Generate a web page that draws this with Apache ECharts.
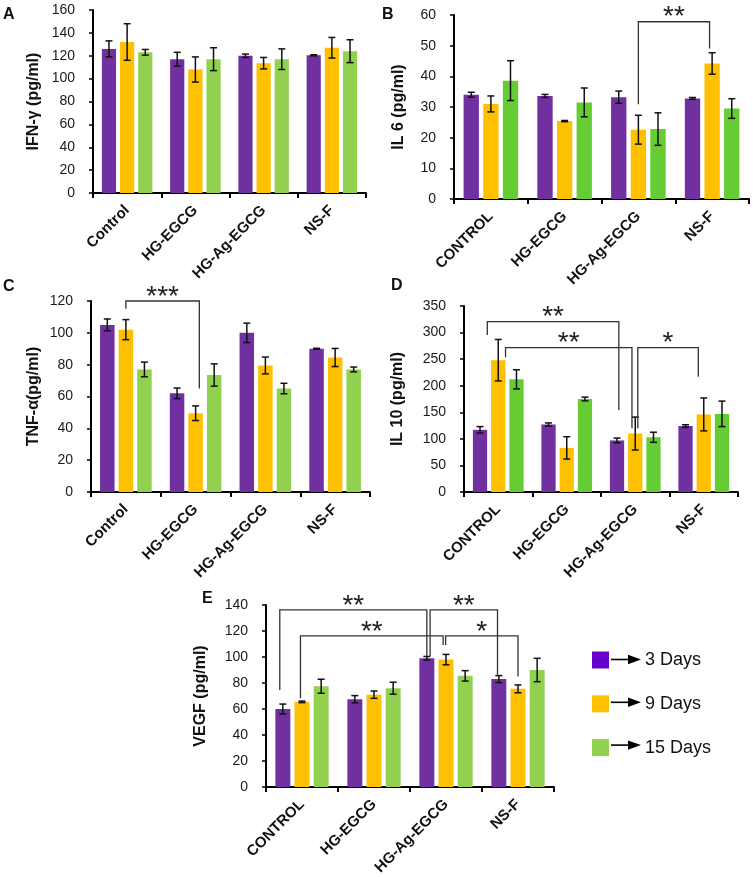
<!DOCTYPE html>
<html>
<head>
<meta charset="utf-8">
<script src="https://cdn.jsdelivr.net/npm/echarts@6/dist/echarts.min.js"></script>
<style>
html, body { margin: 0; padding: 0; background: #fff; }
#chart { width: 753px; height: 877px; }
</style>
</head>
<body>
<div id="chart"></div>
<script>
var groupsTitle = ['Control', 'HG-EGCG', 'HG-Ag-EGCG', 'NS-F'];
var groupsUpper = ['CONTROL', 'HG-EGCG', 'HG-Ag-EGCG', 'NS-F'];
var dayNames = ['3 Days', '9 Days', '15 Days'];

// each panel: rows are 3, 9, 15 days; columns follow the groups
// A - IFN-γ
var ifnMean = [[126, 117, 120, 120.4], [132, 108, 113.5, 127], [123, 117, 117, 124]];
var ifnErr = [[7, 6, 1.5, 0.5], [16, 11, 5, 9], [2.5, 10, 9, 10]];
// B - IL 6
var il6Mean = [[34, 33.6, 33.2, 32.8], [31, 25.4, 22.6, 44.2], [38.6, 31.5, 22.8, 29.5]];
var il6Err = [[0.8, 0.5, 2, 0.3], [2.6, 0.2, 4.7, 3.5], [6.5, 4.7, 5.3, 3.2]];
// C - TNF-α
var tnfMean = [[105, 62, 100, 90], [102, 49.5, 79.5, 84.5], [77, 73.5, 65, 77]];
var tnfErr = [[3.7, 3.3, 6.1, 0.3], [6.3, 4.6, 5.3, 5.7], [4.6, 7, 3.3, 1.5]];
// D - IL 10
var il10Mean = [[117, 127, 97, 124], [248, 83, 110, 146], [212, 175, 103, 147]];
var il10Err = [[6, 3, 4.4, 2.5], [39, 21, 31, 31], [18, 3.5, 9.5, 24]];
// E - VEGF
var vegfMean = [[60, 67.5, 99, 83], [65.5, 71, 98, 75.5], [77.5, 76, 85.5, 90]];
var vegfErr = [[3.8, 2.8, 1.4, 2.7], [0.6, 2.8, 4, 3], [5.4, 4.6, 4, 9]];

// significance brackets: [fromGroup, fromDay, toGroup, toDay, top, leftLegEnd, rightLegEnd]
var il6Sig = [[2, 1, 3, 0.87, 57.8, 30.9, 49.1]];
var il6Stars = ['**'];
var tnfSig = [[0, 1, 1, 1.2, 120, 115.2, 65]];
var tnfStars = ['***'];
var il10Sig = [[0, 0.4, 2, 0.1, 320.6, 295.5, 154.3], [0, 1.4, 2, 0.82, 271.6, 253.4, 119.8], [2, 1.14, 3, 0.7, 271.6, 119.8, 217]];
var il10Stars = ['**', '**', '*'];
var vegfSig = [[0, -0.16, 2, 0, 136.2, 74.7, 100.8], [0, 0.92, 2, 0.85, 116.2, 68.3, 109.3], [2, 0.17, 3, -0.07, 136.2, 100.8, 86.3], [2, 0.98, 3, 1, 116.2, 109.3, 85]];
var vegfStars = ['**', '**', '**', '*'];

var CAT_GAP = 0.26, BAR_GAP = 0.28;
var FONT = '"Liberation Sans", Arial, sans-serif';

var panels = [
  { letter: 'A', cats: groupsTitle, mean: ifnMean, err: ifnErr, sig: [], stars: [], name: 'IFN-γ (pg/ml)', max: 160, step: 20,
    grid: { left: 93, top: 10, width: 273, height: 183 }, nameGap: 51, green: '#92D050', lx: 3, ly: 7 },
  { letter: 'B', cats: groupsUpper, mean: il6Mean, err: il6Err, sig: il6Sig, stars: il6Stars, name: 'IL 6 (pg/ml)', max: 60, step: 10,
    grid: { left: 454, top: 15, width: 295, height: 184 }, nameGap: 47, green: '#66CC33', lx: 382, ly: 7 },
  { letter: 'C', cats: groupsTitle, mean: tnfMean, err: tnfErr, sig: tnfSig, stars: tnfStars, name: 'TNF-α(pg/ml)', max: 120, step: 20,
    grid: { left: 91, top: 301, width: 279, height: 191 }, nameGap: 49, green: '#92D050', lx: 3, ly: 279 },
  { letter: 'D', cats: groupsUpper, mean: il10Mean, err: il10Err, sig: il10Sig, stars: il10Stars, name: 'IL 10 (pg/ml)', max: 350, step: 50,
    grid: { left: 464, top: 306, width: 274, height: 186 }, nameGap: 58, green: '#66CC33', lx: 391, ly: 278 },
  { letter: 'E', cats: groupsUpper, mean: vegfMean, err: vegfErr, sig: vegfSig, stars: vegfStars, name: 'VEGF (pg/ml)', max: 140, step: 20,
    grid: { left: 266, top: 605, width: 288, height: 182 }, nameGap: 57, green: '#92D050', lx: 202, ly: 591 }
];

var legendColors = ['#6600CC', '#FFC000', '#92D050'];

function dayOffset(band, d) {
  var bw = band * (1 - CAT_GAP) / (3 + 2 * BAR_GAP);
  return (d - 1) * bw * (1 + BAR_GAP);
}

function errorRender(day) {
  return function (params, api) {
    var c = api.value(0), m = api.value(1), e = api.value(2);
    var band = api.size([1, 0])[0];
    var x = api.coord([c, m])[0] + dayOffset(band, day);
    var yHi = api.coord([c, m + e])[1];
    var yLo = api.coord([c, m - e])[1];
    var cap = 3.5;
    var st = { stroke: '#111', lineWidth: 1.5 };
    return {
      type: 'group',
      children: [
        { type: 'line', shape: { x1: x, y1: yHi, x2: x, y2: yLo }, style: st },
        { type: 'line', shape: { x1: x - cap, y1: yHi, x2: x + cap, y2: yHi }, style: st },
        { type: 'line', shape: { x1: x - cap, y1: yLo, x2: x + cap, y2: yLo }, style: st }
      ]
    };
  };
}

function bracketRender(stars) {
  return function (params, api) {
    var band = api.size([1, 0])[0];
    var x1 = api.coord([api.value(0), 0])[0] + dayOffset(band, api.value(1));
    var x2 = api.coord([api.value(2), 0])[0] + dayOffset(band, api.value(3));
    var yT = api.coord([0, api.value(4)])[1];
    var yL = api.coord([0, api.value(5)])[1];
    var yR = api.coord([0, api.value(6)])[1];
    return {
      type: 'group',
      children: [
        { type: 'polyline', shape: { points: [[x1, yL], [x1, yT], [x2, yT], [x2, yR]] },
          style: { stroke: '#333', lineWidth: 1.3, fill: null } },
        { type: 'text', style: { text: stars[params.dataIndex], x: (x1 + x2) / 2, y: yT - 4,
          align: 'center', verticalAlign: 'middle', fontSize: 28, fontFamily: FONT, fill: '#222' } }
      ]
    };
  };
}

var grids = [], xAxes = [], yAxes = [], series = [], graphics = [];

panels.forEach(function (p, pi) {
  var g = p.grid;
  grids.push({ left: g.left, top: g.top, width: g.width, height: g.height, outerBoundsMode: 'none' });
  xAxes.push({
    type: 'category', gridIndex: pi, data: p.cats,
    axisLine: { lineStyle: { color: '#000', width: 2 } },
    axisTick: { show: true, length: 5, lineStyle: { color: '#000', width: 2 } },
    axisLabel: { rotate: 45, interval: 0, margin: 15, fontSize: 15, fontWeight: 'bold', fontFamily: FONT, color: '#111' }
  });
  yAxes.push({
    type: 'value', gridIndex: pi, min: 0, max: p.max, interval: p.step,
    name: p.name, nameLocation: 'middle', nameRotate: 90, nameGap: p.nameGap,
    nameTextStyle: { fontSize: 16, fontWeight: 'bold', fontFamily: FONT, color: '#111' },
    axisLine: { show: true, lineStyle: { color: '#000', width: 2 } },
    axisTick: { show: true, length: 4, lineStyle: { color: '#000', width: 1.5 } },
    axisLabel: { fontSize: 14, fontFamily: FONT, color: '#1a1a1a', margin: 18 },
    splitLine: { show: false }
  });
  var colors = ['#7030A0', '#FFC000', p.green];
  dayNames.forEach(function (dn, d) {
    series.push({
      type: 'bar', name: dn, xAxisIndex: pi, yAxisIndex: pi,
      data: p.mean[d], barGap: (BAR_GAP * 100) + '%', barCategoryGap: (CAT_GAP * 100) + '%',
      itemStyle: { color: colors[d] }, silent: true
    });
  });
  dayNames.forEach(function (dn, d) {
    series.push({
      type: 'custom', name: dn + ' error', xAxisIndex: pi, yAxisIndex: pi, z: 3, silent: true,
      renderItem: errorRender(d), encode: { x: 0, y: 1 },
      data: p.mean[d].map(function (v, i) { return [i, v, p.err[d][i]]; })
    });
  });
  if (p.sig.length) {
    series.push({
      type: 'custom', name: p.letter + ' sig', xAxisIndex: pi, yAxisIndex: pi, z: 4, silent: true, clip: false,
      renderItem: bracketRender(p.stars), encode: { x: 0, y: 4 },
      data: p.sig
    });
  }
  graphics.push({
    type: 'text', left: p.lx, top: p.ly,
    style: { text: p.letter, fontSize: 16, fontWeight: 'bold', fontFamily: FONT, fill: '#111' }
  });
});

// legend arrows
var legTop = 651, legStep = 42.8;
dayNames.forEach(function (dn, i) {
  var cy = legTop + 8.5 + i * legStep;
  graphics.push({ type: 'line', shape: { x1: 611, y1: cy, x2: 630, y2: cy }, style: { stroke: '#000', lineWidth: 1.6 } });
  graphics.push({ type: 'polygon', shape: { points: [[628, cy - 4.7], [641, cy], [628, cy + 4.7]] }, style: { fill: '#000' } });
});

var chart = echarts.init(document.getElementById('chart'));
chart.setOption({
  backgroundColor: '#fff',
  animation: false,
  grid: grids,
  xAxis: xAxes,
  yAxis: yAxes,
  legend: {
    orient: 'vertical', left: 592, top: legTop, padding: 0, itemWidth: 17, itemHeight: 17, itemGap: legStep - 17,
    icon: 'rect', selectedMode: false,
    data: dayNames.map(function (n, i) { return { name: n, itemStyle: { color: legendColors[i] } }; }),
    textStyle: { fontSize: 18, lineHeight: 17, fontFamily: FONT, color: '#111', padding: [0, 0, 0, 31] }
  },
  graphic: graphics,
  series: series
});
</script>
</body>
</html>
